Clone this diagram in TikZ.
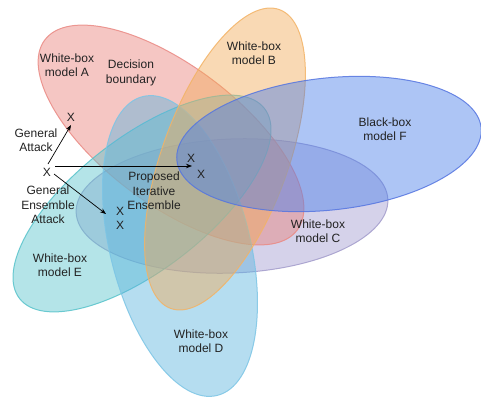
\documentclass[tikz,border=0pt]{standalone}
\usepackage{fontspec}
\setmainfont{Liberation Sans}
\usetikzlibrary{arrows.meta}
\definecolor{fA}{RGB}{233,128,122}\definecolor{sA}{HTML}{EA8A84}
\definecolor{fB}{RGB}{242,171,88}\definecolor{sB}{HTML}{F2B366}
\definecolor{fF}{RGB}{73,126,233}\definecolor{sF}{HTML}{5575E0}
\definecolor{fC}{RGB}{162,155,208}\definecolor{sC}{HTML}{A29CCB}
\definecolor{fD}{RGB}{91,179,222}\definecolor{sD}{HTML}{7CC5E5}
\definecolor{fE}{RGB}{88,195,204}\definecolor{sE}{HTML}{56C2CA}
\definecolor{txt}{HTML}{222222}
\begin{document}
\begin{tikzpicture}[x=1pt,y=-1pt,
  blob/.style={fill opacity=0.45,draw opacity=0.85,line width=1pt},
  lbl/.style={text=txt,font=\fontsize{12}{14.5}\selectfont,align=center,inner sep=0pt},
  xm/.style={text=txt,font=\fontsize{12}{14}\selectfont,inner sep=0pt},
  arr/.style={draw=black,line width=0.7pt,-{Stealth[length=6pt,width=4.5pt]}}]
\useasboundingbox (0,0) rectangle (481,396);
% ellipses
\path[blob,fill=fC,draw=sC,rotate around={2.4:(232,206)}] (232,206) ellipse [x radius=156, y radius=67];
\path[blob,fill=fA,draw=sA,rotate around={-37:(171,135)}] (171,135) ellipse [x radius=158, y radius=69];
\path[blob,fill=fE,draw=sE,rotate around={37.8:(142,203.5)}] (142,203.5) ellipse [x radius=155, y radius=66];
\path[blob,fill=fD,draw=sD,rotate around={104:(180,246)}] (180,246) ellipse [x radius=154, y radius=70];
\path[blob,fill=fB,draw=sB,rotate around={70:(225,159)}] (225,159) ellipse [x radius=159, y radius=63];
\path[blob,fill=fF,draw=sF,rotate around={6.2:(329,144)}] (329,144) ellipse [x radius=153, y radius=66];
% labels
\node[lbl] (lA) at (67,65) {White-box\\model A};
\node[lbl] (lDB) at (131,73) {Decision\\boundary};
\node[lbl] (lB) at (254,53) {White-box\\model B};
\node[lbl] (lF) at (385,129) {Black-box\\model F};
\node[lbl] (lC) at (318,231) {White-box\\model C};
\node[lbl] (lD) at (201,341) {White-box\\model D};
\node[lbl] (lE) at (60,265) {White-box\\model E};
\node[lbl] (lP) at (154,191) {Proposed\\Iterative\\Ensemble};
\node[lbl] (lGA) at (36,140) {General\\Attack};
\node[lbl] (lGE) at (48,205) {General\\Ensemble\\Attack};
% X marks
\node[xm] (x0) at (47,172) {X};
\node[xm] (x1) at (71,117) {X};
\node[xm] (x2) at (191,158) {X};
\node[xm] (x3) at (201,174) {X};
\node[xm] (x4) at (120,211) {X};
\node[xm] (x5) at (120,225) {X};
% arrows
\coordinate (s1) at (48,164);
\coordinate (e1) at (71,125);
\coordinate (s2) at (55,166);
\coordinate (e2) at (192,166);
\coordinate (s3) at (54,174);
\coordinate (e3) at (106,214);
\draw[arr] (s1) -- (e1);
\draw[arr] (s2) -- (e2);
\draw[arr] (s3) -- (e3);
\end{tikzpicture}
\end{document}
